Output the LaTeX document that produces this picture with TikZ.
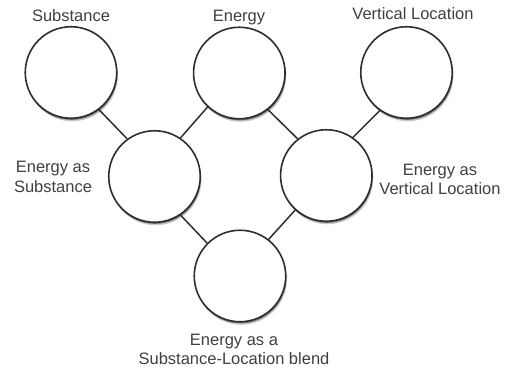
\documentclass[tikz,border=0pt]{standalone}
\usepackage{fontspec}
\setmainfont{Liberation Sans}
\usetikzlibrary{shadows}
\definecolor{txt}{HTML}{404040}
\definecolor{edge}{HTML}{2E2E2E}
\tikzset{
  bubble/.style={circle, draw=edge, line width=1.6pt, fill=white,
    minimum size=91.5pt, inner sep=0pt,
    drop shadow={shadow xshift=1.2pt, shadow yshift=-3pt, opacity=0.22, fill=black},
    drop shadow={shadow xshift=0.6pt, shadow yshift=-1.6pt, opacity=0.45, fill=black}},
  lbl/.style={text=txt, font=\fontsize{16.5}{19.5}\selectfont, inner sep=0pt, align=center},
  link/.style={draw=edge, line width=1.5pt}
}
\begin{document}
\begin{tikzpicture}[x=1pt,y=-1pt]
\useasboundingbox (0,0) rectangle (511,372);
\node[bubble] (sub) at (71,72.5) {};
\node[bubble] (ene) at (239.3,73) {};
\node[bubble] (ver) at (406.5,72.5) {};
\node[bubble] (eas) at (154.5,176.5) {};
\node[bubble] (eav) at (326.3,175.5) {};
\node[bubble] (bld) at (240,276) {};
\draw[link] (sub.-53) -- (eas.126);
\draw[link] (ene.-133) -- (eas.56);
\draw[link] (ene.-52) -- (eav.128);
\draw[link] (ver.-125) -- (eav.55);
\draw[link] (eas.-56) -- (bld.135);
\draw[link] (eav.-132) -- (bld.52);
\node[lbl, anchor=base] (lsub) at (71,21.5) {Substance};
\node[lbl, anchor=base] (lene) at (239,21.5) {Energy};
\node[lbl, anchor=base] (lver) at (413,19.5) {Vertical Location};
\node[lbl] (leas) at (53,177) {Energy as\\Substance};
\node[lbl] (leav) at (440,179.5) {Energy as\\Vertical Location};
\node[lbl] (lbld) at (234,349.5) {Energy as a\\Substance-Location blend};
\end{tikzpicture}
\end{document}
